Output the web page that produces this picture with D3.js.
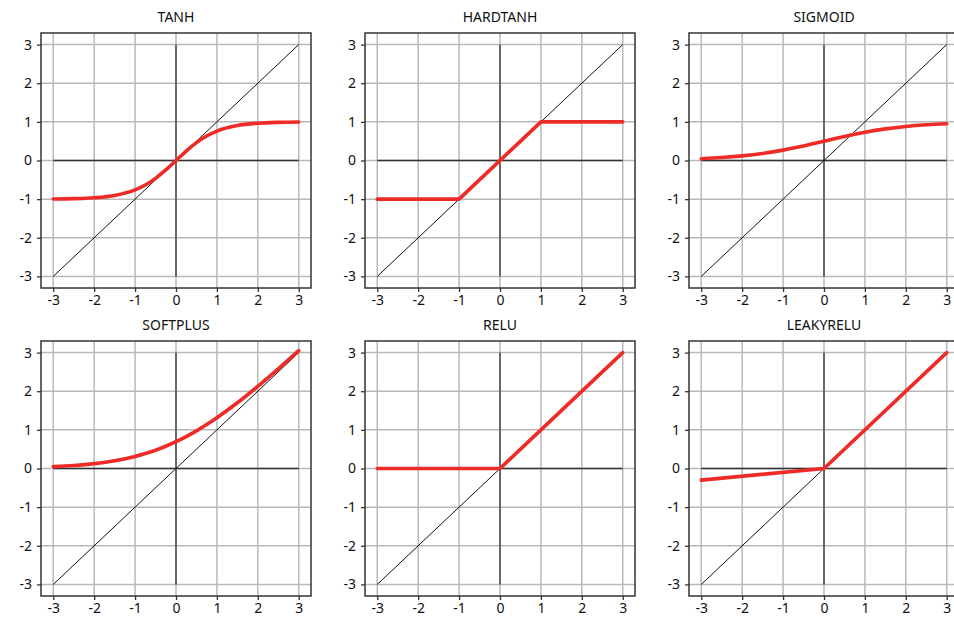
<!DOCTYPE html>
<html>
<head>
<meta charset="utf-8">
<script src="https://cdn.jsdelivr.net/npm/d3@7"></script>
<style>
  html, body { margin: 0; padding: 0; background: #fff; }
  svg { display: block; }
  text { font-family: "Comic Sans MS", "Noto Sans", "DejaVu Sans", sans-serif; fill: #111; }
</style>
</head>
<body>
<svg id="chart" width="954" height="618"></svg>
<script>
// ---------- data ----------
const titles = ["TANH", "HARDTANH", "SIGMOID", "SOFTPLUS", "RELU", "LEAKYRELU"];
const tickValues = [-3, -2, -1, 0, 1, 2, 3];
const tickLabels = ["-3", "-2", "-1", "0", "1", "2", "3"];
const identityX = [-3, 3];
const identityY = [-3, 3];

const smoothX = [-3, -2.5, -2, -1.5, -1, -0.75, -0.5, -0.25, 0, 0.25, 0.5, 0.75, 1, 1.5, 2, 2.5, 3];
const tanhY = [-0.995, -0.987, -0.964, -0.905, -0.762, -0.635, -0.462, -0.245, 0, 0.245, 0.462, 0.635, 0.762, 0.905, 0.964, 0.987, 0.995];
const sigmoidY = [0.047, 0.076, 0.119, 0.182, 0.269, 0.321, 0.378, 0.438, 0.5, 0.562, 0.622, 0.679, 0.731, 0.818, 0.881, 0.924, 0.953];
const softplusY = [0.049, 0.079, 0.127, 0.201, 0.313, 0.386, 0.474, 0.576, 0.693, 0.826, 0.974, 1.136, 1.313, 1.701, 2.127, 2.579, 3.049];

const hardtanhX = [-3, -1, 1, 3];
const hardtanhY = [-1, -1, 1, 1];
const reluX = [-3, 0, 3];
const reluY = [0, 0, 3];
const leakyX = [-3, 0, 3];
const leakyY = [-0.3, 0, 3];

const panels = [
  { title: titles[0], xs: smoothX, ys: tanhY, smooth: true },
  { title: titles[1], xs: hardtanhX, ys: hardtanhY, smooth: false },
  { title: titles[2], xs: smoothX, ys: sigmoidY, smooth: true },
  { title: titles[3], xs: smoothX, ys: softplusY, smooth: true },
  { title: titles[4], xs: reluX, ys: reluY, smooth: false },
  { title: titles[5], xs: leakyX, ys: leakyY, smooth: false }
];

// ---------- layout ----------
const svg = d3.select("#chart");
const colLeft = [41, 365, 689];
const rowTop = [33, 341];
const pw = 270, ph = 255;
const domain = [-3.3, 3.3];

panels.forEach((p, i) => {
  const col = i % 3, row = Math.floor(i / 3);
  const x0 = colLeft[col], y0 = rowTop[row];
  const g = svg.append("g").attr("transform", `translate(${x0},${y0})`);
  const x = d3.scaleLinear().domain(domain).range([0, pw]);
  const y = d3.scaleLinear().domain(domain).range([ph, 0]);

  // grid
  g.append("g").selectAll("line.gx").data(tickValues).join("line")
    .attr("x1", d => x(d)).attr("x2", d => x(d)).attr("y1", 0).attr("y2", ph)
    .attr("stroke", "#b8b8b8").attr("stroke-width", 1.5);
  g.append("g").selectAll("line.gy").data(tickValues).join("line")
    .attr("y1", d => y(d)).attr("y2", d => y(d)).attr("x1", 0).attr("x2", pw)
    .attr("stroke", "#b8b8b8").attr("stroke-width", 1.5);

  // zero axes
  g.append("line").attr("x1", x(-3)).attr("x2", x(3)).attr("y1", y(0)).attr("y2", y(0))
    .attr("stroke", "#333").attr("stroke-width", 1.3);
  g.append("line").attr("x1", x(0)).attr("x2", x(0)).attr("y1", y(-3)).attr("y2", y(3))
    .attr("stroke", "#333").attr("stroke-width", 1.3);

  // identity
  const line = d3.line().x(d => x(d[0])).y(d => y(d[1]));
  g.append("path").datum(d3.zip(identityX, identityY)).attr("d", line)
    .attr("fill", "none").attr("stroke", "#111").attr("stroke-width", 1);

  // function curve
  const fl = d3.line().x(d => x(d[0])).y(d => y(d[1]))
    .curve(p.smooth ? d3.curveMonotoneX : d3.curveLinear);
  g.append("path").datum(d3.zip(p.xs, p.ys)).attr("d", fl)
    .attr("fill", "none").attr("stroke", "#ee2b27").attr("stroke-width", 3.6)
    .attr("stroke-linejoin", "round").attr("stroke-linecap", "round");

  // frame
  g.append("rect").attr("x", 0).attr("y", 0).attr("width", pw).attr("height", ph)
    .attr("fill", "none").attr("stroke", "#333").attr("stroke-width", 1.5);

  // axes
  const xAxis = d3.axisBottom(x).tickValues(tickValues)
    .tickFormat((d, k) => tickLabels[k]).tickSizeInner(4).tickSizeOuter(0).tickPadding(3);
  const gx = g.append("g").attr("transform", `translate(0,${ph})`).call(xAxis);
  const yAxis = d3.axisLeft(y).tickValues(tickValues)
    .tickFormat((d, k) => tickLabels[k]).tickSizeInner(4).tickSizeOuter(0).tickPadding(5);
  const gy = g.append("g").call(yAxis);
  [gx, gy].forEach(a => {
    a.select(".domain").remove();
    a.selectAll(".tick line").attr("stroke", "#333").attr("stroke-width", 1.3);
    a.selectAll(".tick text").style("font-size", "14px").style("font-family", "\"Comic Sans MS\", \"Noto Sans\", sans-serif");
  });

  // title
  g.append("text").attr("x", pw / 2).attr("y", -11).attr("text-anchor", "middle")
    .style("font-size", "14px").text(p.title);
});
</script>
</body>
</html>
